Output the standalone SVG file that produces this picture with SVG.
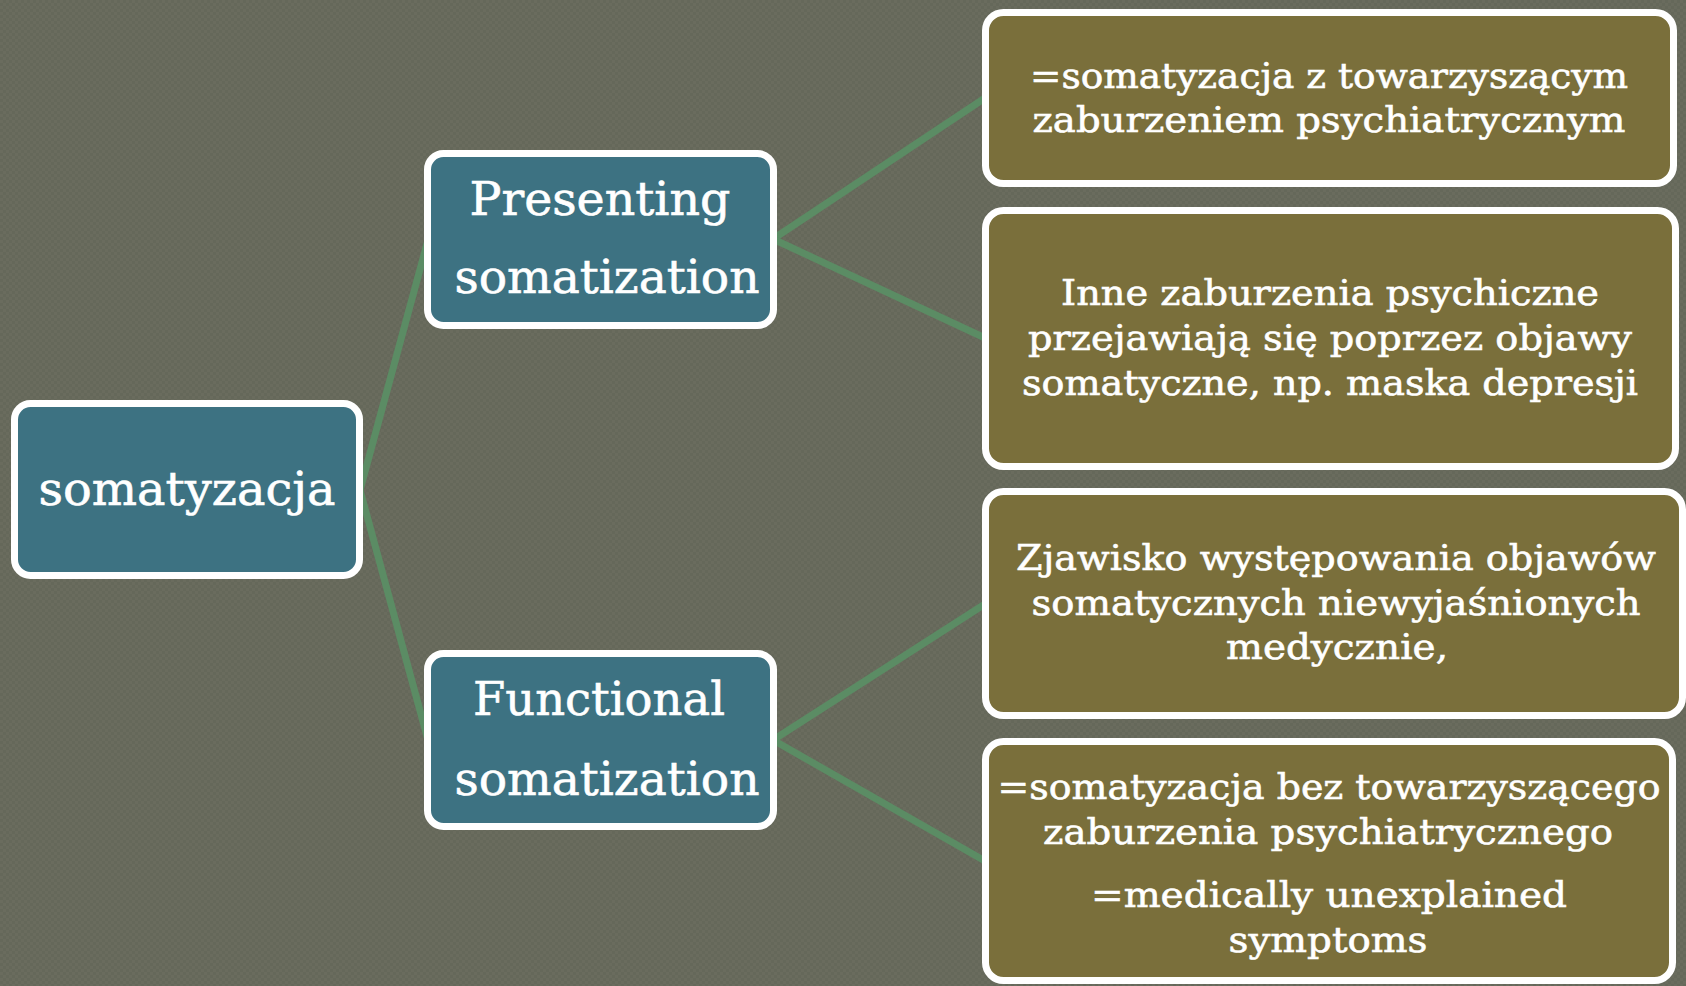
<svg xmlns="http://www.w3.org/2000/svg" width="1686" height="986" viewBox="0 0 1686 986">
<defs>
<pattern id="tex" width="6" height="6" patternUnits="userSpaceOnUse">
<rect width="6" height="6" fill="#65685a"/>
<rect width="3" height="3" fill="#6a6c5e"/>
<rect x="3" y="3" width="3" height="3" fill="#6a6c5e"/>
</pattern>
</defs>
<style>
.bg{fill:url(#tex)}
.teal{fill:#3d7282;stroke:#ffffff;stroke-width:7}
.olive{fill:#7a6f3b;stroke:#ffffff;stroke-width:7}
.conn{stroke:#5b8c64;stroke-width:7;fill:none;stroke-linecap:round}
text{font-family:"DejaVu Serif","Liberation Serif",serif;fill:#ffffff;stroke:#ffffff;stroke-width:0.6;text-anchor:middle}
.big{font-size:47px}
.sm{font-size:36px}
</style>
<rect class="bg" x="0" y="0" width="1686" height="986"/>
<g id="connectors">
<line class="conn" x1="360" y1="490" x2="428" y2="240"/>
<line class="conn" x1="360" y1="490" x2="428" y2="740"/>
<line class="conn" x1="773" y1="239" x2="985" y2="98"/>
<line class="conn" x1="773" y1="239" x2="985" y2="338"/>
<line class="conn" x1="773" y1="740" x2="985" y2="604"/>
<line class="conn" x1="773" y1="740" x2="985" y2="861"/>
</g>
<g id="node-root">
<rect class="teal" x="14.5" y="403.5" width="345" height="172" rx="16"/>
<text class="big" x="187" y="505" textLength="297" lengthAdjust="spacingAndGlyphs">somatyzacja</text>
</g>
<g id="node-presenting">
<rect class="teal" x="427.5" y="153.5" width="346" height="172" rx="16"/>
<text class="big" x="600" y="215" textLength="261" lengthAdjust="spacingAndGlyphs">Presenting</text>
<text class="big" x="607" y="293" textLength="305" lengthAdjust="spacingAndGlyphs">somatization</text>
</g>
<g id="node-functional">
<rect class="teal" x="427.5" y="653.5" width="346" height="173" rx="16"/>
<text class="big" x="599" y="715" textLength="252" lengthAdjust="spacingAndGlyphs">Functional</text>
<text class="big" x="607" y="795" textLength="305" lengthAdjust="spacingAndGlyphs">somatization</text>
</g>
<g id="node-box1">
<rect class="olive" x="985.5" y="12.5" width="688" height="171" rx="18"/>
<text class="sm" x="1329" y="88" textLength="598" lengthAdjust="spacingAndGlyphs">=somatyzacja z towarzyszącym</text>
<text class="sm" x="1329" y="132" textLength="593" lengthAdjust="spacingAndGlyphs">zaburzeniem psychiatrycznym</text>
</g>
<g id="node-box2">
<rect class="olive" x="985.5" y="210.5" width="690" height="256" rx="18"/>
<text class="sm" x="1330" y="305" textLength="538" lengthAdjust="spacingAndGlyphs">Inne zaburzenia psychiczne</text>
<text class="sm" x="1330" y="350" textLength="604" lengthAdjust="spacingAndGlyphs">przejawiają się poprzez objawy</text>
<text class="sm" x="1330" y="395" textLength="616" lengthAdjust="spacingAndGlyphs">somatyczne, np. maska depresji</text>
</g>
<g id="node-box3">
<rect class="olive" x="985.5" y="491.5" width="697" height="224" rx="18"/>
<text class="sm" x="1336" y="570" textLength="640" lengthAdjust="spacingAndGlyphs">Zjawisko występowania objawów</text>
<text class="sm" x="1336" y="615" textLength="609" lengthAdjust="spacingAndGlyphs">somatycznych niewyjaśnionych</text>
<text class="sm" x="1337" y="659" textLength="222" lengthAdjust="spacingAndGlyphs">medycznie,</text>
</g>
<g id="node-box4">
<rect class="olive" x="985.5" y="741.5" width="687" height="239" rx="18"/>
<text class="sm" x="1329" y="799" textLength="663" lengthAdjust="spacingAndGlyphs">=somatyzacja bez towarzyszącego</text>
<text class="sm" x="1328" y="844" textLength="570" lengthAdjust="spacingAndGlyphs">zaburzenia psychiatrycznego</text>
<text class="sm" x="1329" y="907" textLength="476" lengthAdjust="spacingAndGlyphs">=medically unexplained</text>
<text class="sm" x="1328" y="952" textLength="199" lengthAdjust="spacingAndGlyphs">symptoms</text>
</g>
</svg>
